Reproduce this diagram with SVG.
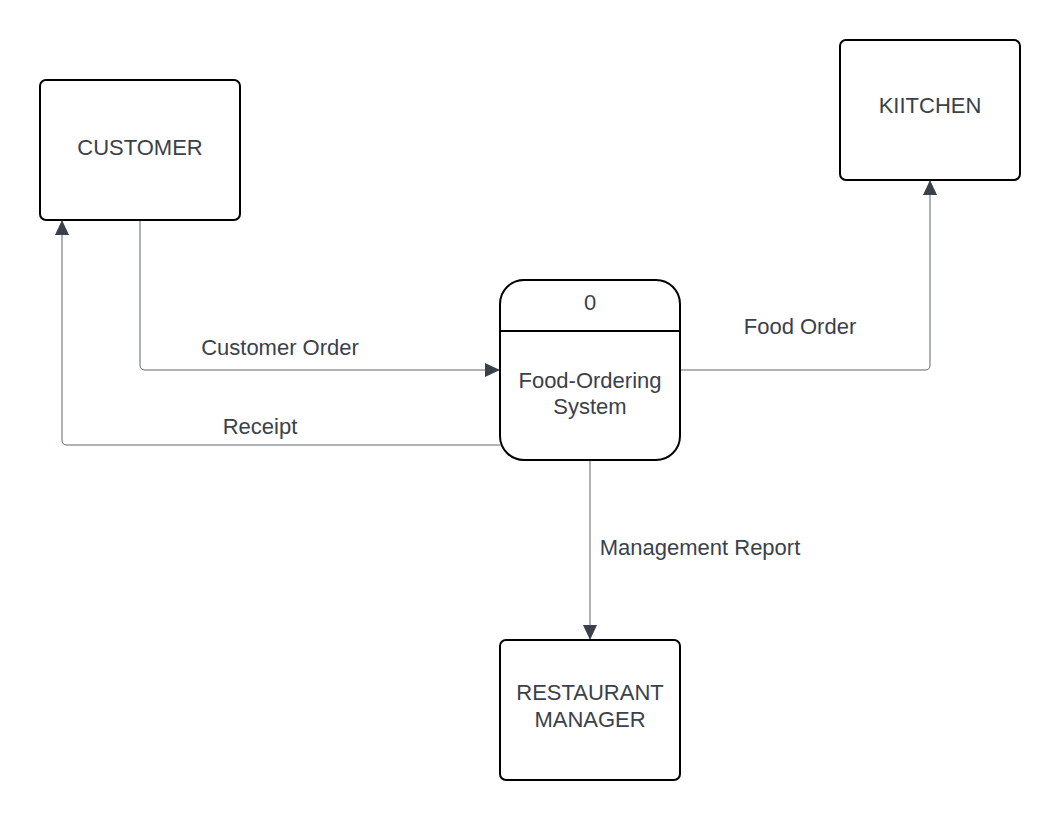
<svg xmlns="http://www.w3.org/2000/svg" width="1060" height="820" viewBox="0 0 1060 820">
<style>
.node{fill:#fff;stroke:#000;stroke-width:2}
.t{font-family:"Liberation Sans",Arial,sans-serif;font-size:22px;fill:#3a414a;text-anchor:middle}
.e{fill:none;stroke:#5e6670;stroke-width:1}
</style>
<defs>
<marker id="arr" markerWidth="16" markerHeight="14" refX="15" refY="7" orient="auto" markerUnits="userSpaceOnUse">
<path d="M0,0 L15,7 L0,14 Z" fill="#3a414a"/>
</marker>
</defs>
<rect width="1060" height="820" fill="#fff"/>
<g id="connectors">
<path class="e" d="M140,220 V365 Q140,370 145,370 H500" marker-end="url(#arr)"/>
<path class="e" d="M500,445 H67 Q62,445 62,440 V220" marker-end="url(#arr)"/>
<path class="e" d="M680,370 H925 Q930,370 930,365 V180" marker-end="url(#arr)"/>
<path class="e" d="M590,460 V640" marker-end="url(#arr)"/>
<text class="t" x="280" y="355">Customer Order</text>
<text class="t" x="260" y="434">Receipt</text>
<text class="t" x="800" y="334">Food Order</text>
<text class="t" x="700" y="555">Management Report</text>
</g>
<g id="customer">
<rect class="node" x="40" y="80" width="200" height="140" rx="6"/>
<text class="t" x="140" y="155">CUSTOMER</text>
</g>
<g id="kitchen">
<rect class="node" x="840" y="40" width="180" height="140" rx="6"/>
<text class="t" x="930" y="113">KIITCHEN</text>
</g>
<g id="process">
<rect class="node" x="500" y="280" width="180" height="180" rx="24"/>
<line x1="500" y1="331" x2="680" y2="331" stroke="#000" stroke-width="2"/>
<text class="t" x="590" y="310">0</text>
<text class="t" x="590" y="388">Food-Ordering</text>
<text class="t" x="590" y="414">System</text>
</g>
<g id="manager">
<rect class="node" x="500" y="640" width="180" height="140" rx="6"/>
<text class="t" x="590" y="700">RESTAURANT</text>
<text class="t" x="590" y="727">MANAGER</text>
</g>
</svg>
